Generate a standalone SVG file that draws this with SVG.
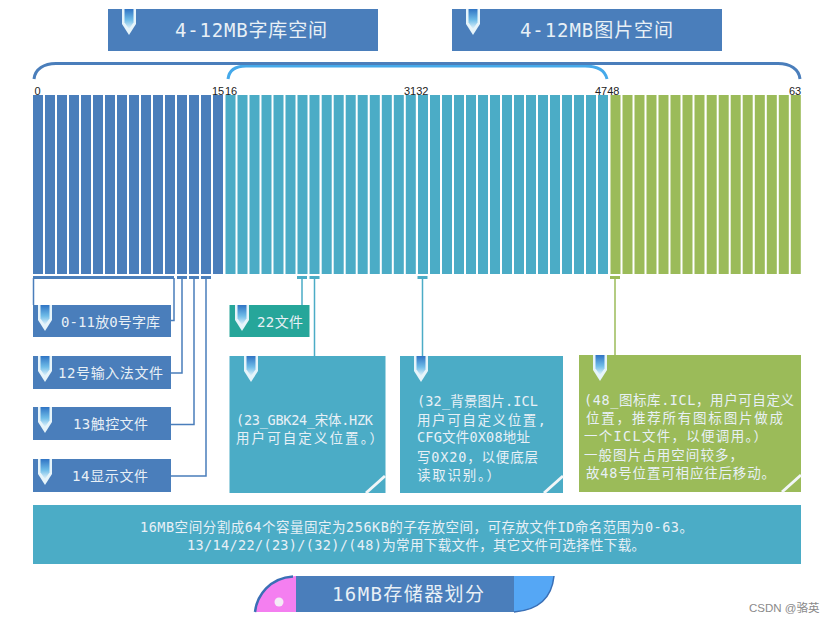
<svg xmlns="http://www.w3.org/2000/svg" width="832" height="624" viewBox="0 0 832 624">
<style>
.b{fill:#4a7ebb}.t{fill:#4bacc6}.g{fill:#9bbb59}.k{fill:#26a69a}
.cj{font-family:"DejaVu Sans Mono","Noto Sans CJK SC",monospace;fill:#e8f0f6}
.h{font-size:19px}
.l{font-size:14px}
.p{font-size:13.500px}
.n{font-family:"Liberation Sans",sans-serif;font-size:11px;fill:#222}
.cb{stroke:#4a7ebb;stroke-width:1.500;fill:none}
.ct{stroke:#4bacc6;stroke-width:1.500;fill:none}
.cg{stroke:#9bbb59;stroke-width:1.500;fill:none}
.cut{stroke:#f2f6f8;stroke-width:3;fill:none}
</style>
<defs>
<linearGradient id="pg" x1="0" y1="0" x2="0" y2="1"><stop offset="0" stop-color="#2f74c4"/><stop offset="0.55" stop-color="#6fbce8"/><stop offset="1" stop-color="#e4f4fb"/></linearGradient>
<g id="pin"><path d="M-7,0V15L0,26L7,15V0Z" fill="#e6f4fa"/><path d="M-4.500,0V13.500L0,20L4.500,13.500V0Z" fill="url(#pg)"/></g>
<g id="bars"><rect x="0" width="10" height="179"/><rect x="12" width="10" height="179"/><rect x="24" width="10" height="179"/><rect x="36" width="10" height="179"/></g>
</defs>

<g id="connectors">
<path class="cb" d="M33.500,278V305M174,278V320.500H171M182,278V373H171M194,278V424.500H171M206,278V476H171"/>
<path class="ct" d="M302,278V305M314.500,278V356M422.500,278V356"/>
<path class="cg" d="M615,278V355"/>
<rect class="b" x="33" y="276" width="141" height="3"/><rect class="b" x="177" y="276" width="10" height="3"/><rect class="b" x="189" y="276" width="10" height="3"/><rect class="b" x="201" y="276" width="10" height="3"/>
<rect class="t" x="297" y="276" width="10" height="3"/><rect class="t" x="309.500" y="276" width="10" height="3"/><rect class="t" x="417.500" y="276" width="10" height="3"/><rect class="g" x="610" y="276" width="10" height="3"/>
<path d="M228,79C229,71 235,66 246,66H585C597,66 605,70 607,79" fill="none" stroke="#45a9ea" stroke-width="3"/>
<path d="M34,79C35,69 44,63.500 56,63.500H778C790,63.500 799,69 800,79" fill="none" stroke="#4a7ebb" stroke-width="3"/>
</g>

<g id="memory-bars">
<g class="b">
<use href="#bars" x="33" y="95"/><use href="#bars" x="81" y="95"/><use href="#bars" x="129" y="95"/><use href="#bars" x="177" y="95"/>
</g>
<g class="t">
<use href="#bars" x="225.500" y="95"/><use href="#bars" x="273.500" y="95"/><use href="#bars" x="321.700" y="95"/><use href="#bars" x="369.800" y="95"/><use href="#bars" x="418" y="95"/><use href="#bars" x="466" y="95"/><use href="#bars" x="514" y="95"/><use href="#bars" x="562" y="95"/>
</g>
<g class="g">
<use href="#bars" x="610.500" y="95"/><use href="#bars" x="658.500" y="95"/><use href="#bars" x="706.700" y="95"/><use href="#bars" x="754.800" y="95"/>
</g>
<text class="n" x="34.500" y="95">0</text><text class="n" x="212" y="95">15</text><text class="n" x="225" y="95">16</text><text class="n" x="404" y="95">3132</text><text class="n" x="595" y="95">4748</text><text class="n" x="789" y="95">63</text>
</g>

<g id="font-space"><rect class="b" x="108" y="9" width="270" height="42"/><use href="#pin" x="129" y="9"/><text class="cj h" x="175" y="37" textLength="152">4-12MB字库空间</text></g>
<g id="image-space"><rect class="b" x="452" y="9" width="270" height="42"/><use href="#pin" x="473" y="9"/><text class="cj h" x="520" y="37" textLength="153">4-12MB图片空间</text></g>

<g id="font0"><rect class="b" x="33" y="305" width="138" height="32"/><use href="#pin" x="45" y="305"/><text class="cj l" x="61" y="327" textLength="99">0-11放0号字库</text></g>
<g id="input"><rect class="b" x="33" y="356" width="138" height="33"/><use href="#pin" x="45" y="356"/><text class="cj l" x="58" y="378" textLength="105">12号输入法文件</text></g>
<g id="touch"><rect class="b" x="33" y="407" width="138" height="33"/><use href="#pin" x="45" y="407"/><text class="cj l" x="73" y="429" textLength="75">13触控文件</text></g>
<g id="display"><rect class="b" x="33" y="459" width="138" height="33"/><use href="#pin" x="45" y="459"/><text class="cj l" x="72" y="481" textLength="76">14显示文件</text></g>
<g id="file22"><rect class="k" x="229.500" y="305" width="80" height="32"/><use href="#pin" x="242" y="305"/><text class="cj l" x="257" y="327" textLength="46">22文件</text></g>

<g id="file23"><rect class="t" x="229.500" y="356" width="156" height="137"/><use href="#pin" x="251" y="356"/><path class="cut" d="M366,493L385,476"/>
<text class="cj p" x="236" y="425" textLength="137">(23_GBK24_宋体.HZK</text><text class="cj p" x="236" y="443" textLength="147">用户可自定义位置。）</text></g>

<g id="file32"><rect class="t" x="400" y="356" width="163" height="137"/><use href="#pin" x="421" y="356"/><path class="cut" d="M544,493L563,476"/>
<text class="cj p" x="417" y="406" textLength="121">(32_背景图片.ICL</text><text class="cj p" x="417" y="425" textLength="129">用户可自定义位置,</text><text class="cj p" x="417" y="442" textLength="113">CFG文件0X08地址</text><text class="cj p" x="417" y="462" textLength="121">写0X20，以便底层</text><text class="cj p" x="417" y="480" textLength="83">读取识别。）</text></g>

<g id="file48"><rect class="g" x="579" y="355" width="222" height="137"/><use href="#pin" x="600" y="355"/><path class="cut" d="M782,492L801,475"/>
<text class="cj p" x="584" y="405" textLength="210">(48_图标库.ICL，用户可自定义</text><text class="cj p" x="586" y="423" textLength="197">位置，推荐所有图标图片做成</text><text class="cj p" x="584" y="441" textLength="183">一个ICL文件，以便调用。）</text><text class="cj p" x="584" y="460" textLength="159">一般图片占用空间较多，</text><text class="cj p" x="586" y="478" textLength="189">故48号位置可相应往后移动。</text></g>

<g id="summary"><rect class="t" x="33" y="505" width="768" height="59"/>
<text class="cj p" x="140" y="532" textLength="553">16MB空间分割成64个容量固定为256KB的子存放空间，可存放文件ID命名范围为0-63。</text>
<text class="cj p" x="187" y="550" textLength="458">13/14/22/(23)/(32)/(48)为常用下载文件，其它文件可选择性下载。</text></g>

<g id="title">
<path d="M255,612C257,595 270,578 296,576V612Z" fill="#f47ff0"/>
<path d="M255,612C257,595 270,578 293,576.500" fill="none" stroke="#3a6fb5" stroke-width="2.500"/>
<circle cx="279" cy="602" r="4.500" fill="#f4eaf6"/>
<rect class="b" x="296" y="576" width="218" height="36"/>
<path d="M514,576H554C552,596 540,610 514,612Z" fill="#55a7f5"/>
<path d="M554,576C552,596 540,610 514,612" fill="none" stroke="#3a6fb5" stroke-width="1.500"/>
<text class="cj h" x="332" y="601" textLength="152">16MB存储器划分</text>
</g>

<g id="watermark"><text x="749" y="612" font-family="'Liberation Sans','Noto Sans CJK SC',sans-serif" font-size="11.500" fill="#8a8a8a">CSDN @骆英</text></g>
</svg>
